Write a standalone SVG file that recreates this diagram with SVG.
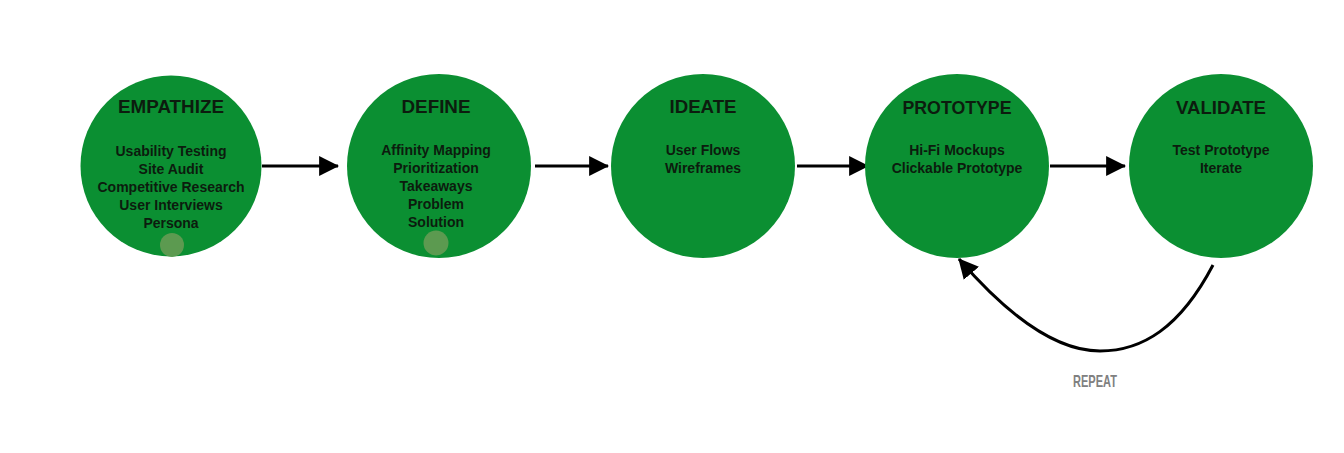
<svg xmlns="http://www.w3.org/2000/svg" width="1344" height="453" viewBox="0 0 1344 453">
<defs>
<style>
.node{fill:#0b8f32;}
.spot{fill:#5c9a50;}
.title{font-family:"Liberation Sans",Arial,sans-serif;font-weight:bold;font-size:19px;fill:#0c1c0e;text-anchor:middle;}
.body{font-family:"Liberation Sans",Arial,sans-serif;font-weight:bold;font-size:14px;fill:#0c1c0e;text-anchor:middle;}
.conn{stroke:#000;stroke-width:3;fill:none;}
.lbl{font-family:"Liberation Sans",Arial,sans-serif;font-weight:bold;font-size:17px;fill:#808080;text-anchor:middle;}
</style>
<marker id="ah" markerUnits="userSpaceOnUse" markerWidth="20" markerHeight="20" viewBox="0 0 18 18" refX="17" refY="9" orient="auto">
<path d="M0,0 L18,9 L0,18 Z" fill="#000"/>
</marker>
</defs>
<rect width="1344" height="453" fill="#fff"/>
<g id="connectors">
<line class="conn" x1="262" y1="166" x2="338" y2="166" marker-end="url(#ah)"/>
<line class="conn" x1="535" y1="166" x2="608" y2="166" marker-end="url(#ah)"/>
<line class="conn" x1="797" y1="166" x2="868" y2="166" marker-end="url(#ah)"/>
<line class="conn" x1="1050" y1="166" x2="1125" y2="166" marker-end="url(#ah)"/>
<path class="conn" d="M1213,265 C1180,328 1142,351 1100,351 C1058,351 1010,318 959,259" marker-end="url(#ah)"/>
<text class="lbl" x="1095" y="387" textLength="44" lengthAdjust="spacingAndGlyphs">REPEAT</text>
</g>
<g id="empathize">
<circle class="node" cx="171" cy="166" r="90.5"/>
<circle class="spot" cx="172" cy="245" r="12"/>
<text class="title" x="171" y="113" textLength="106" lengthAdjust="spacingAndGlyphs">EMPATHIZE</text>
<text class="body" x="171" y="156">Usability Testing</text>
<text class="body" x="171" y="174">Site Audit</text>
<text class="body" x="171" y="192">Competitive Research</text>
<text class="body" x="171" y="210">User Interviews</text>
<text class="body" x="171" y="228">Persona</text>
</g>
<g id="define">
<circle class="node" cx="439" cy="166" r="92"/>
<circle class="spot" cx="436" cy="243" r="12.5"/>
<text class="title" x="436" y="113" textLength="69" lengthAdjust="spacingAndGlyphs">DEFINE</text>
<text class="body" x="436" y="155">Affinity Mapping</text>
<text class="body" x="436" y="173">Prioritization</text>
<text class="body" x="436" y="191">Takeaways</text>
<text class="body" x="436" y="209">Problem</text>
<text class="body" x="436" y="227">Solution</text>
</g>
<g id="ideate">
<circle class="node" cx="703" cy="166" r="92"/>
<text class="title" x="703" y="113" textLength="67" lengthAdjust="spacingAndGlyphs">IDEATE</text>
<text class="body" x="703" y="155">User Flows</text>
<text class="body" x="703" y="173">Wireframes</text>
</g>
<g id="prototype">
<circle class="node" cx="957" cy="166" r="92"/>
<text class="title" x="957" y="114" textLength="109" lengthAdjust="spacingAndGlyphs">PROTOTYPE</text>
<text class="body" x="957" y="155">Hi-Fi Mockups</text>
<text class="body" x="957" y="173">Clickable Prototype</text>
</g>
<g id="validate">
<circle class="node" cx="1221" cy="166" r="92"/>
<text class="title" x="1221" y="114" textLength="90" lengthAdjust="spacingAndGlyphs">VALIDATE</text>
<text class="body" x="1221" y="155">Test Prototype</text>
<text class="body" x="1221" y="173">Iterate</text>
</g>
</svg>
